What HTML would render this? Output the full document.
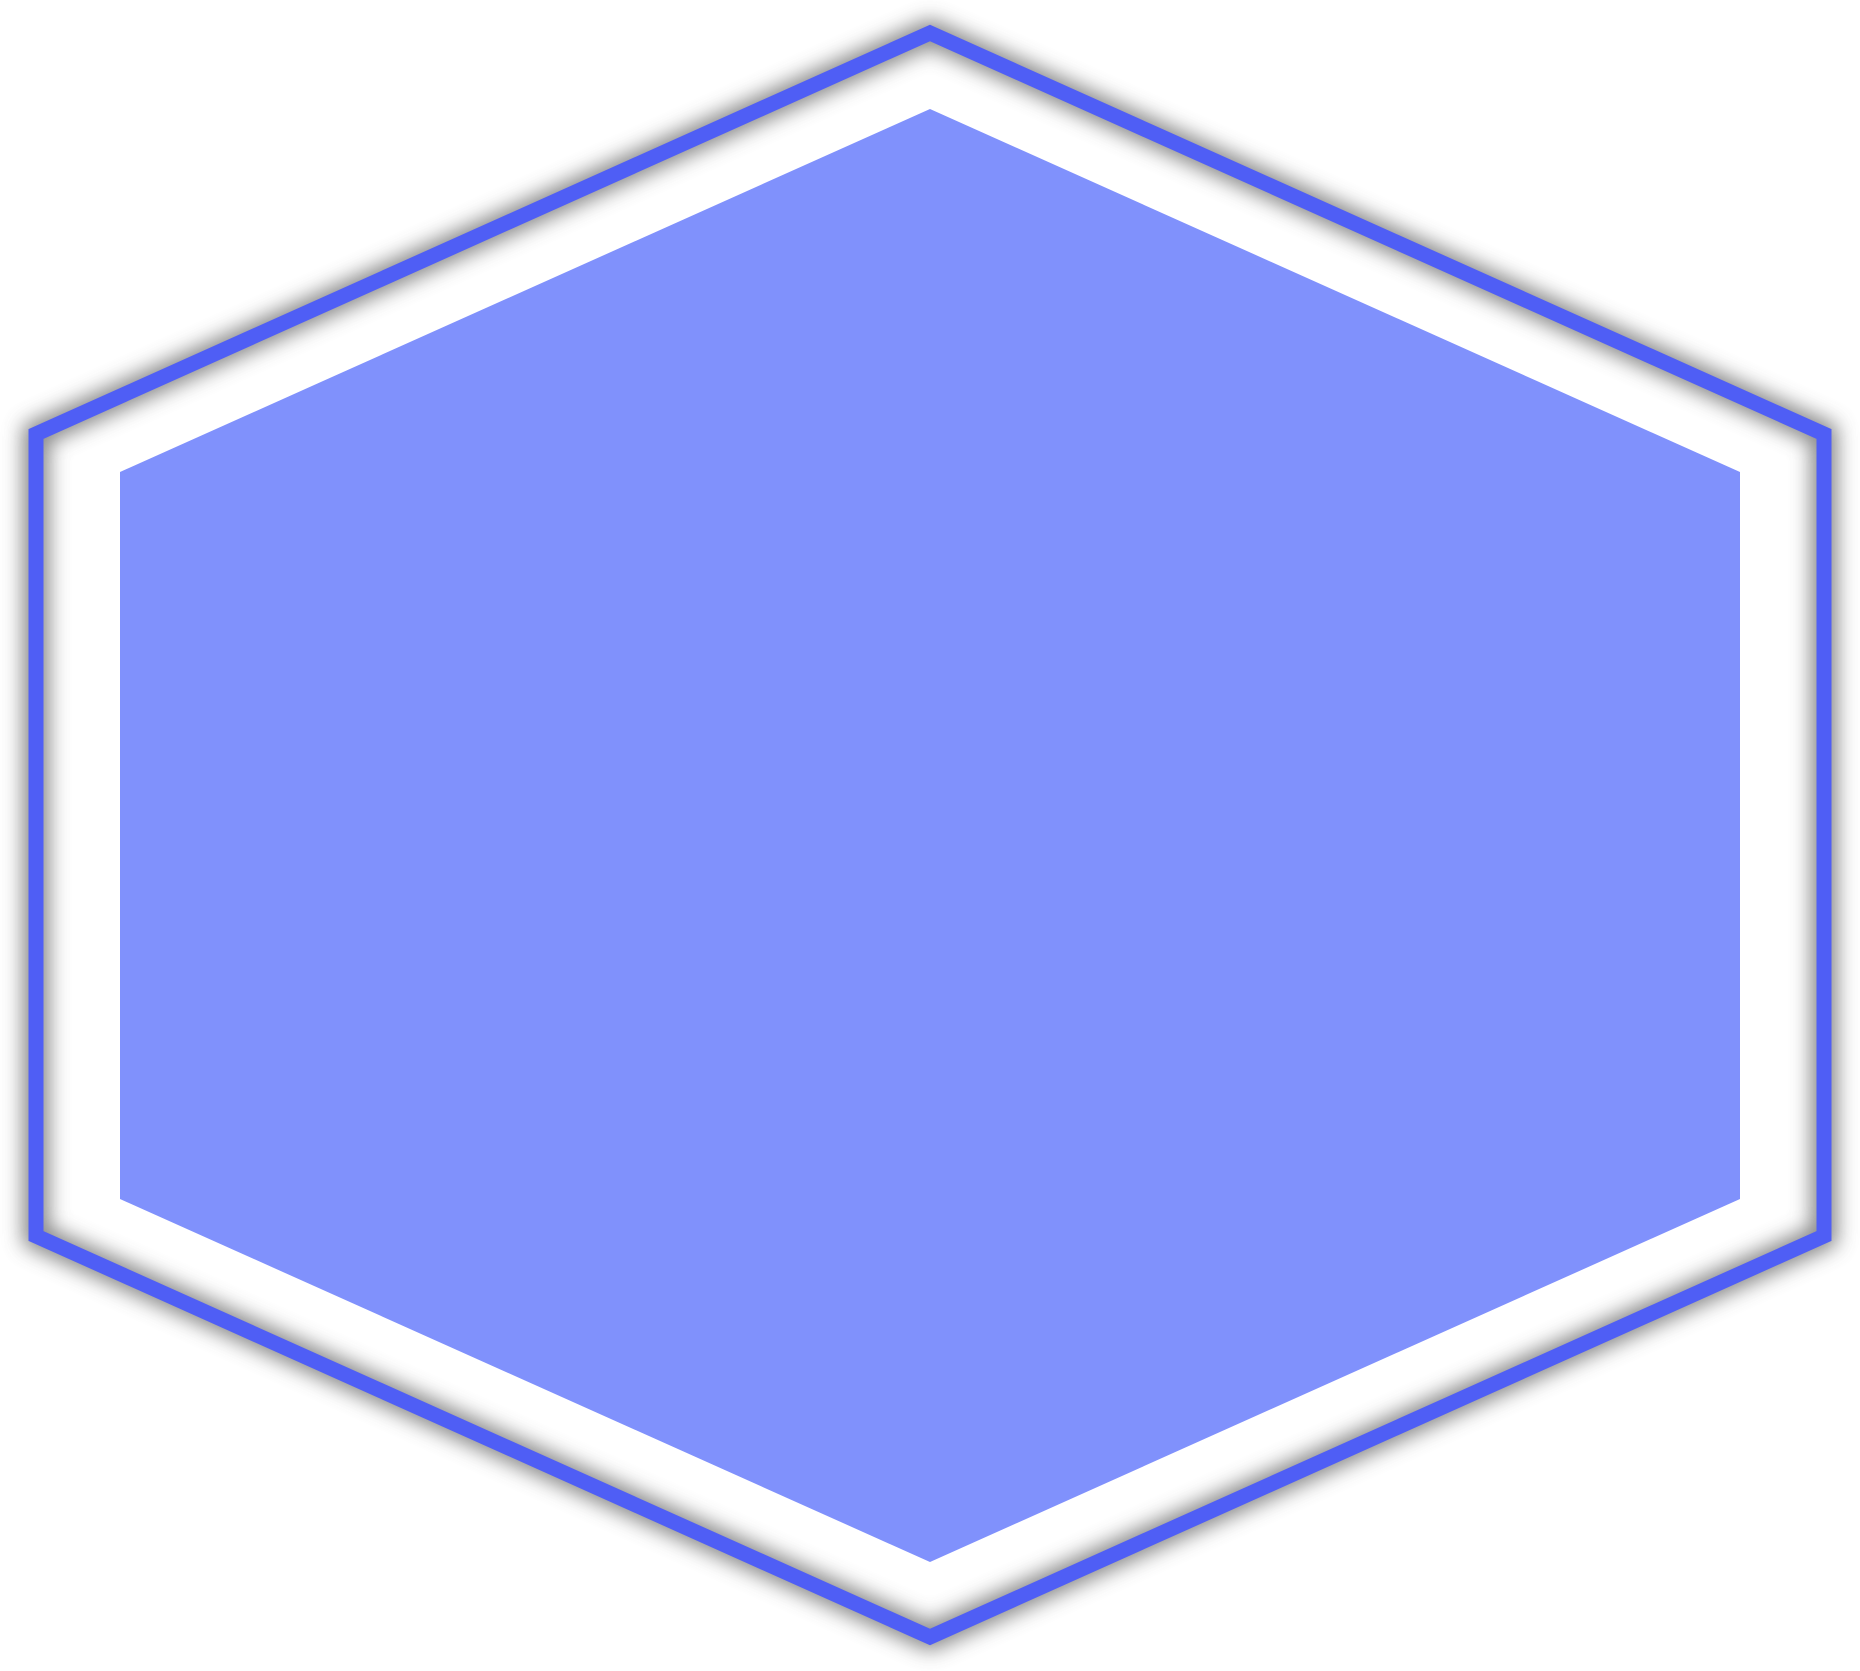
<!DOCTYPE html>
<html><head><meta charset="utf-8"><style>html,body{margin:0;padding:0;background:#fff;width:1860px;height:1671px;overflow:hidden}</style></head>
<body>
<svg width="1860" height="1671" viewBox="0 0 1860 1671" xmlns="http://www.w3.org/2000/svg">
<defs>
<filter id="sh" x="-10%" y="-10%" width="120%" height="120%">
<feGaussianBlur stdDeviation="10"/>
</filter>
</defs>
<polygon points="930,33 1824,434 1824,1236 930,1637 36,1236 36,434" fill="none" stroke="#666" stroke-width="26" filter="url(#sh)" opacity="0.8"/>
<polygon points="930,33 1824,434 1824,1236 930,1637 36,1236 36,434" fill="none" stroke="#4f5ef5" stroke-width="15"/>
<polygon points="930,109 1740,472 1740,1199 930,1562 120,1199 120,472" fill="#8091fc"/>
</svg>
</body></html>
